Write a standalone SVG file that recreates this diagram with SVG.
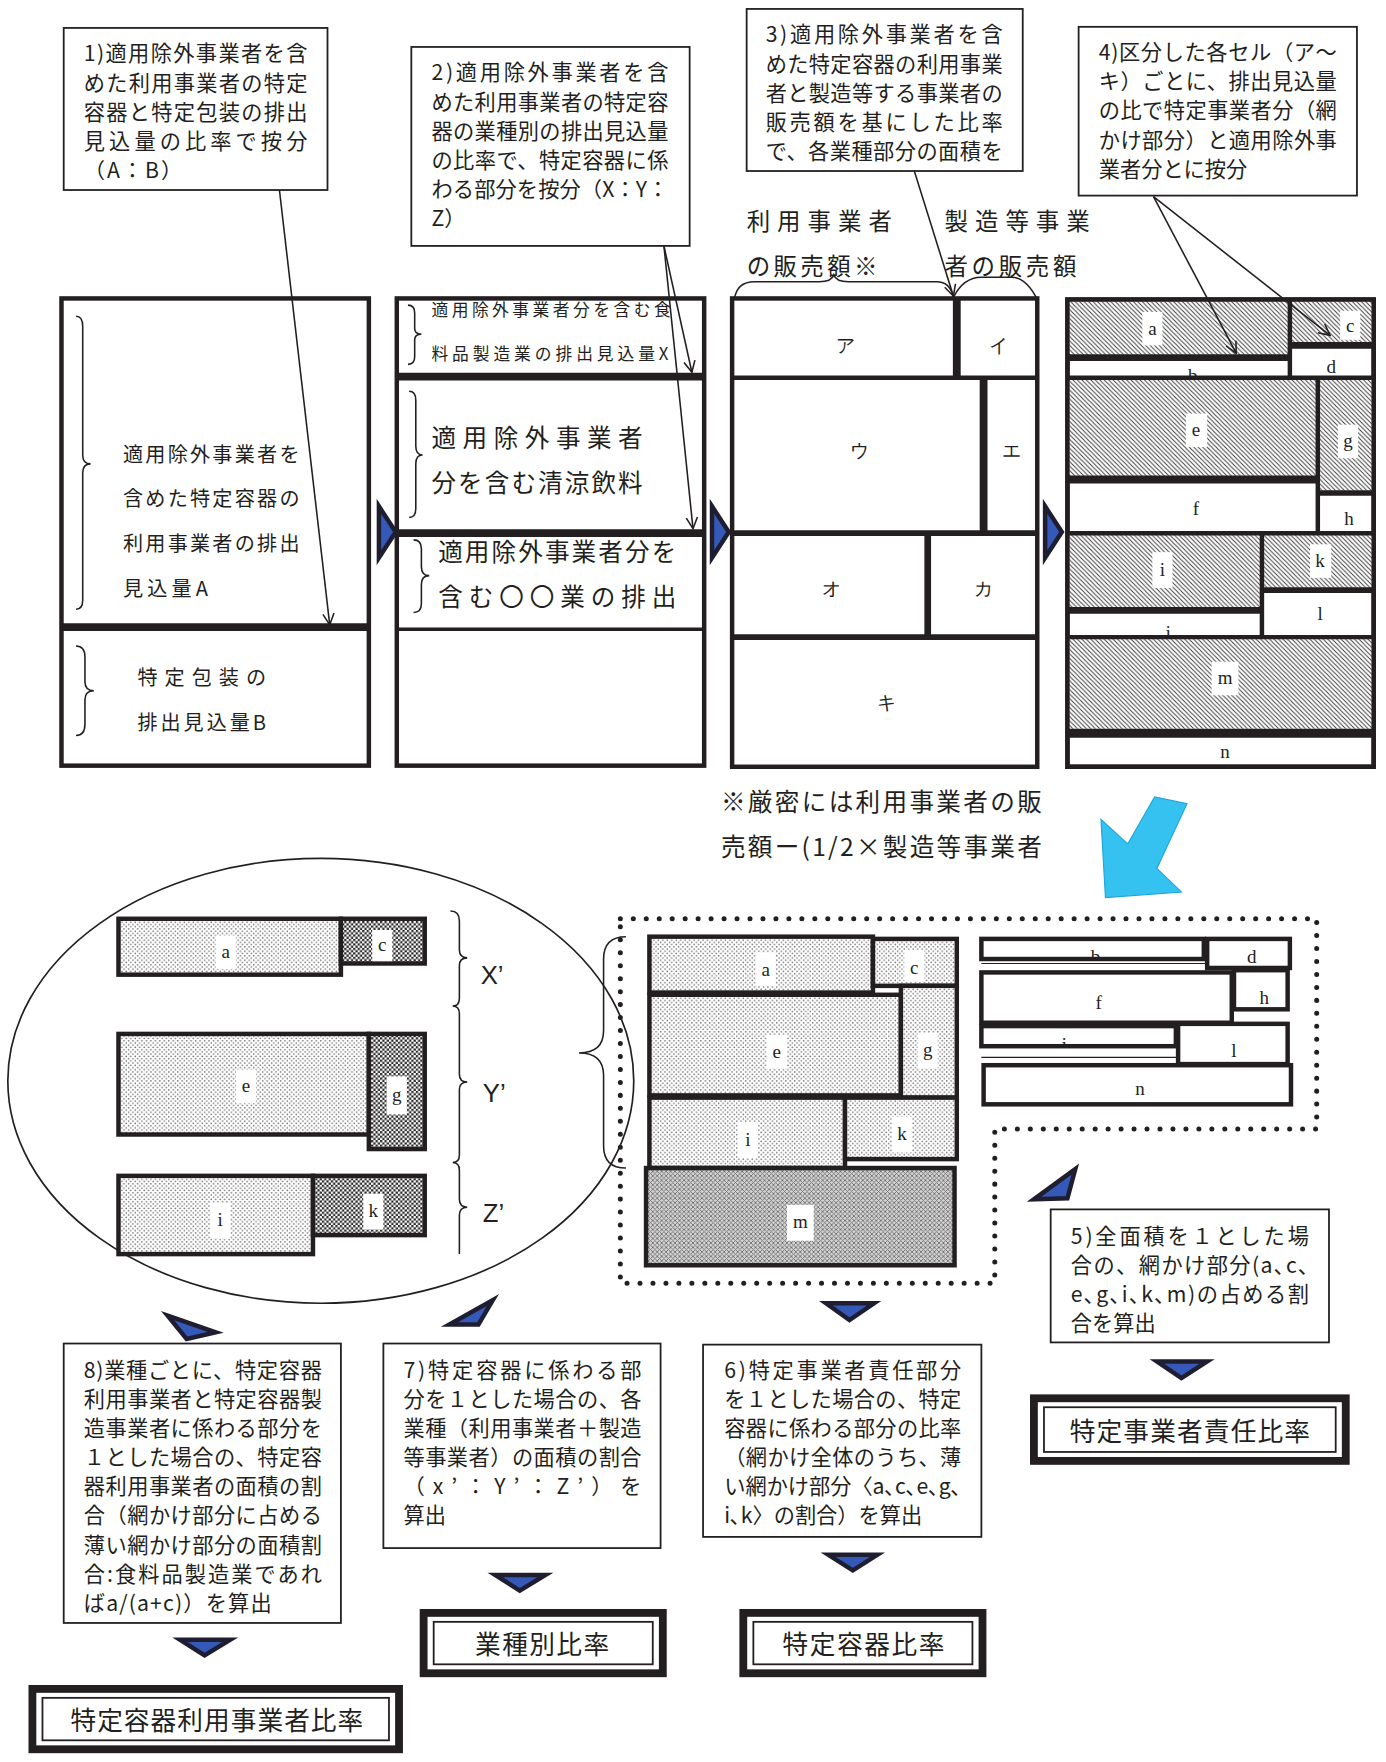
<svg xmlns="http://www.w3.org/2000/svg" width="1386" height="1762" viewBox="0 0 1386 1762">
<defs>
<style>
.t{font-family:"Noto Sans CJK JP","Noto Sans",sans-serif;fill:#231f20;}
.f19{font-size:19px;}
.f18{font-size:18px;}
.f15{font-size:15px;}
.f21{font-size:21px;}
.f22{font-size:22px;}
.f23{font-size:23px;}
.lb{font-family:"Liberation Serif","DejaVu Serif",serif;font-size:17px;text-anchor:middle;fill:#231f20;}
.xl{font-family:"Liberation Sans",Arial,sans-serif;font-size:23px;fill:#231f20;}
.box{fill:#fff;stroke:#231f20;stroke-width:1.6;}
.pn{fill:#fff;stroke:#231f20;stroke-width:4;}
.pno{fill:none;stroke:#231f20;stroke-width:4;}
.ln{stroke:#231f20;fill:none;}
.cell{stroke:#231f20;stroke-width:4;}
.wb{fill:#fff;}
.br{fill:none;stroke:#231f20;stroke-width:1.4;}
.tri{fill:#3559b8;stroke:#1e1e30;stroke-width:4;stroke-linejoin:miter;}
.con{stroke:#231f20;stroke-width:1.4;fill:none;marker-end:url(#ah);}
.rb{fill:#fff;stroke:#231f20;stroke-width:7;}
.ri{fill:none;stroke:#231f20;stroke-width:1.6;}
</style>
<marker id="ah" viewBox="0 0 12 12" refX="11" refY="6" markerWidth="12" markerHeight="12" markerUnits="userSpaceOnUse" orient="auto">
<path d="M1,1 L11,6 L1,11" fill="none" stroke="#231f20" stroke-width="1.4"/>
</marker>
<pattern id="hatch" width="4" height="4" patternUnits="userSpaceOnUse">
<rect width="4" height="4" fill="#fff"/>
<path d="M-1,-1 L5,5 M-1,3 L1,5 M3,-1 L5,1" stroke="#3a3a3a" stroke-width="0.85"/>
</pattern>
<pattern id="dots" width="4" height="4" patternUnits="userSpaceOnUse">
<rect width="4" height="4" fill="#fff"/>
<circle cx="1" cy="1" r="0.7" fill="#666"/>
<circle cx="3" cy="3" r="0.7" fill="#666"/>
</pattern>
<pattern id="checker" width="4" height="4" patternUnits="userSpaceOnUse">
<rect width="4" height="4" fill="#fff"/>
<rect width="2" height="2" fill="#2a2a2a"/>
<rect x="2" y="2" width="2" height="2" fill="#2a2a2a"/>
</pattern>
<pattern id="cross" width="4" height="4" patternUnits="userSpaceOnUse">
<rect width="4" height="4" fill="#d4d4d4"/>
<path d="M0,0 L4,4 M4,0 L0,4" stroke="#707070" stroke-width="0.8"/>
</pattern>
<clipPath id="cb1"><rect x="955" y="322" width="198" height="15"/></clipPath>
<clipPath id="cj1"><rect x="955" y="548" width="173" height="20"/></clipPath>
<clipPath id="cb2"><rect x="878" y="840" width="199" height="17"/></clipPath>
<clipPath id="cj2"><rect x="878" y="918" width="174" height="17"/></clipPath>
</defs>
<rect width="1386" height="1762" fill="#fff"/>
<g transform="scale(1.11774)">

<!-- top text boxes -->
<g id="box1">
<rect class="box" x="57" y="25" width="236" height="145"/>
<text class="t f19" x="75" y="55" textLength="200" lengthAdjust="spacing">1)適用除外事業者を含</text>
<text class="t f19" x="75" y="81" textLength="200" lengthAdjust="spacing">めた利用事業者の特定</text>
<text class="t f19" x="75" y="107" textLength="200" lengthAdjust="spacing">容器と特定包装の排出</text>
<text class="t f19" x="75" y="133" textLength="200" lengthAdjust="spacing">見込量の比率で按分</text>
<text class="t f19" x="75" y="159" textLength="88" lengthAdjust="spacing">（A：B）</text>
</g>
<g id="box2">
<rect class="box" x="368" y="42" width="249" height="178"/>
<text class="t f19" x="386" y="72" textLength="212" lengthAdjust="spacing">2)適用除外事業者を含</text>
<text class="t f19" x="386" y="98" textLength="212" lengthAdjust="spacing">めた利用事業者の特定容</text>
<text class="t f19" x="386" y="124" textLength="212" lengthAdjust="spacing">器の業種別の排出見込量</text>
<text class="t f19" x="386" y="150" textLength="212" lengthAdjust="spacing">の比率で、特定容器に係</text>
<text class="t f19" x="386" y="176" textLength="212" lengthAdjust="spacing">わる部分を按分（X：Y：</text>
<text class="t f19" x="386" y="202">Z）</text>
</g>
<g id="box3">
<rect class="box" x="668" y="8" width="247" height="145"/>
<text class="t f19" x="685" y="38" textLength="212" lengthAdjust="spacing">3)適用除外事業者を含</text>
<text class="t f19" x="685" y="64" textLength="212" lengthAdjust="spacing">めた特定容器の利用事業</text>
<text class="t f19" x="685" y="90" textLength="212" lengthAdjust="spacing">者と製造等する事業者の</text>
<text class="t f19" x="685" y="116" textLength="212" lengthAdjust="spacing">販売額を基にした比率</text>
<text class="t f19" x="685" y="142" textLength="212" lengthAdjust="spacing">で、各業種部分の面積を</text>
</g>
<g id="box4">
<rect class="box" x="965" y="24" width="249" height="151"/>
<text class="t f19" x="983" y="54" textLength="213" lengthAdjust="spacing">4)区分した各セル（ア～</text>
<text class="t f19" x="983" y="80" textLength="213" lengthAdjust="spacing">キ）ごとに、排出見込量</text>
<text class="t f19" x="983" y="106" textLength="213" lengthAdjust="spacing">の比で特定事業者分（網</text>
<text class="t f19" x="983" y="132" textLength="213" lengthAdjust="spacing">かけ部分）と適用除外事</text>
<text class="t f19" x="983" y="158">業者分とに按分</text>
</g>

<!-- labels above panel 3 -->
<g id="sales-labels">
<text class="t f21" x="668" y="206" textLength="130" lengthAdjust="spacing">利用事業者</text>
<text class="t f21" x="668" y="246" textLength="117" lengthAdjust="spacing">の販売額※</text>
<text class="t f21" x="845" y="206" textLength="130" lengthAdjust="spacing">製造等事業</text>
<text class="t f21" x="845" y="246" textLength="118" lengthAdjust="spacing">者の販売額</text>
<path class="br" d="M657,268 Q659,252 675,252 L733,252 Q744,252 746,246 Q748,252 759,252 L838,252 Q850,252 853,266"/>
<path class="br" d="M853,266 Q862,248 878,248 L905,248 Q918,248 928,268"/>
</g>

<!-- panel 1 -->
<g id="panel1">
<rect class="pn" x="55" y="267" width="275" height="418"/>
<line class="ln" x1="55" y1="561" x2="330" y2="561" stroke-width="7"/>
<path class="br" d="M68,283 Q74,283 74,292 L74,407 Q74,415 81,415 Q74,415 74,423 L74,537 Q74,545 68,545"/>
<text class="t f18" x="110" y="413" textLength="158" lengthAdjust="spacing">適用除外事業者を</text>
<text class="t f18" x="110" y="453" textLength="158" lengthAdjust="spacing">含めた特定容器の</text>
<text class="t f18" x="110" y="493" textLength="158" lengthAdjust="spacing">利用事業者の排出</text>
<text class="t f18" x="110" y="533" textLength="76" lengthAdjust="spacing">見込量A</text>
<path class="br" d="M68,578 Q76,578 76,588 L76,610 Q76,618 84,618 Q76,618 76,626 L76,648 Q76,658 68,658"/>
<text class="t f18" x="123" y="613" textLength="115" lengthAdjust="spacing">特定包装の</text>
<text class="t f18" x="123" y="653" textLength="115" lengthAdjust="spacing">排出見込量B</text>
</g>

<!-- panel 2 -->
<g id="panel2">
<rect x="355" y="267" width="275" height="418" fill="#fff"/>
<text class="t f15" x="386" y="283" textLength="214" lengthAdjust="spacing">適用除外事業者分を含む食</text>
<text class="t f15" x="386" y="322" textLength="212" lengthAdjust="spacing">料品製造業の排出見込量X</text>
<rect class="pno" x="355" y="267" width="275" height="418"/>
<line class="ln" x1="355" y1="337" x2="630" y2="337" stroke-width="7"/>
<line class="ln" x1="355" y1="477" x2="630" y2="477" stroke-width="7"/>
<line class="ln" x1="355" y1="563" x2="630" y2="563" stroke-width="3"/>
<path class="br" d="M365,273 Q371,273 371,280 L371,294 Q371,299 377,299 Q371,299 371,304 L371,319 Q371,326 365,326"/>
<path class="br" d="M366,350 Q372,350 372,358 L372,399 Q372,407 378,407 Q372,407 372,415 L372,455 Q372,463 366,463"/>
<path class="br" d="M370,483 Q377,483 377,491 L377,507 Q377,515 384,515 Q377,515 377,523 L377,540 Q377,548 370,548"/>
<text class="t f22" x="386" y="400" textLength="189" lengthAdjust="spacing">適用除外事業者</text>
<text class="t f22" x="386" y="440" textLength="189" lengthAdjust="spacing">分を含む清涼飲料</text>
<text class="t f22" x="392" y="502" textLength="213" lengthAdjust="spacing">適用除外事業者分を</text>
<text class="t f22" x="392" y="542" textLength="213" lengthAdjust="spacing">含む〇〇業の排出</text>
</g>

<!-- panel 3 -->
<g id="panel3">
<rect class="pn" x="655" y="267" width="273" height="419"/>
<line class="ln" x1="856" y1="267" x2="856" y2="338" stroke-width="7"/>
<line class="ln" x1="655" y1="338" x2="928" y2="338" stroke-width="4"/>
<line class="ln" x1="880" y1="338" x2="880" y2="477" stroke-width="7"/>
<line class="ln" x1="655" y1="477" x2="928" y2="477" stroke-width="5"/>
<line class="ln" x1="830" y1="477" x2="830" y2="570" stroke-width="6"/>
<line class="ln" x1="655" y1="570" x2="928" y2="570" stroke-width="5"/>
<text class="lb" x="756" y="315">ア</text>
<text class="lb" x="893" y="315">イ</text>
<text class="lb" x="769" y="409">ウ</text>
<text class="lb" x="905" y="409">エ</text>
<text class="lb" x="744" y="532">オ</text>
<text class="lb" x="880" y="532">カ</text>
<text class="lb" x="793" y="634">キ</text>
</g>

<!-- panel 4 -->
<g id="panel4">
<rect class="pn" x="955" y="268" width="274" height="418"/>
<rect x="955" y="268" width="198" height="50" fill="url(#hatch)"/>
<rect x="1154" y="268" width="75" height="39" fill="url(#hatch)"/>
<rect x="955" y="338" width="223" height="89" fill="url(#hatch)"/>
<rect x="1179" y="338" width="50" height="101" fill="url(#hatch)"/>
<rect x="955" y="477" width="173" height="67" fill="url(#hatch)"/>
<rect x="1129" y="477" width="100" height="49" fill="url(#hatch)"/>
<rect x="955" y="570" width="274" height="82" fill="url(#hatch)"/>
<rect class="pno" x="955" y="268" width="274" height="418"/>
<line class="ln" x1="955" y1="320" x2="1153" y2="320" stroke-width="6"/>
<line class="ln" x1="1154" y1="268" x2="1154" y2="338" stroke-width="4"/>
<line class="ln" x1="1154" y1="309" x2="1229" y2="309" stroke-width="6"/>
<line class="ln" x1="955" y1="338" x2="1229" y2="338" stroke-width="4"/>
<line class="ln" x1="955" y1="429" x2="1178" y2="429" stroke-width="7"/>
<line class="ln" x1="1179" y1="338" x2="1179" y2="477" stroke-width="4"/>
<line class="ln" x1="1179" y1="441" x2="1229" y2="441" stroke-width="5"/>
<line class="ln" x1="955" y1="477" x2="1229" y2="477" stroke-width="4"/>
<line class="ln" x1="955" y1="546" x2="1128" y2="546" stroke-width="6"/>
<line class="ln" x1="1129" y1="477" x2="1129" y2="570" stroke-width="4"/>
<line class="ln" x1="1129" y1="528" x2="1229" y2="528" stroke-width="5"/>
<line class="ln" x1="955" y1="570" x2="1229" y2="570" stroke-width="4"/>
<line class="ln" x1="955" y1="656" x2="1229" y2="656" stroke-width="8"/>
<rect class="wb" x="1022" y="279" width="18" height="30"/>
<text class="lb" x="1031" y="300">a</text>
<text class="lb" x="1067" y="342" clip-path="url(#cb1)">b</text>
<rect class="wb" x="1199" y="278" width="18" height="26"/>
<text class="lb" x="1208" y="297">c</text>
<text class="lb" x="1191" y="334">d</text>
<rect class="wb" x="1061" y="370" width="19" height="30"/>
<text class="lb" x="1070" y="390">e</text>
<text class="lb" x="1070" y="461">f</text>
<rect class="wb" x="1197" y="380" width="18" height="30"/>
<text class="lb" x="1206" y="400">g</text>
<text class="lb" x="1207" y="470">h</text>
<rect class="wb" x="1031" y="494" width="18" height="32"/>
<text class="lb" x="1040" y="515">i</text>
<text class="lb" x="1045" y="572" clip-path="url(#cj1)">j</text>
<rect class="wb" x="1172" y="487" width="19" height="30"/>
<text class="lb" x="1181" y="507">k</text>
<text class="lb" x="1181" y="555">l</text>
<rect class="wb" x="1084" y="592" width="24" height="30"/>
<text class="lb" x="1096" y="612">m</text>
<text class="lb" x="1096" y="678">n</text>
</g>

<!-- right-pointing triangles -->
<g id="steps-row1">
<polygon class="tri" points="339,453 354,476 339,499"/>
<polygon class="tri" points="637,453 652,476 637,499"/>
<polygon class="tri" points="935,453 950,476 935,499"/>
</g>

<!-- footnote -->
<g id="footnote">
<text class="t f22" x="645" y="726" textLength="287" lengthAdjust="spacing">※厳密には利用事業者の販</text>
<text class="t f22" x="645" y="766" textLength="287" lengthAdjust="spacing">売額ー(1/2×製造等事業者</text>
</g>

<!-- big cyan arrow -->
<g id="big-arrow">
<polygon points="985,733 1009,755 1033,713 1062,719 1035,777 1057,798 989,803" fill="#36c2f0" stroke="#1ea6d8" stroke-width="1"/>
</g>

<!-- ellipse detail -->
<g id="ellipse">
<ellipse cx="287" cy="967" rx="280" ry="199" fill="#fff" stroke="#231f20" stroke-width="1.5"/>
<rect class="cell" x="106" y="822" width="199" height="50" fill="url(#dots)"/>
<rect class="cell" x="305" y="822" width="75" height="40" fill="url(#checker)"/>
<rect class="cell" x="106" y="925" width="224" height="90" fill="url(#dots)"/>
<rect class="cell" x="330" y="925" width="50" height="103" fill="url(#checker)"/>
<rect class="cell" x="106" y="1052" width="174" height="70" fill="url(#dots)"/>
<rect class="cell" x="280" y="1052" width="100" height="53" fill="url(#checker)"/>
<rect class="wb" x="193" y="837" width="18" height="30"/>
<text class="lb" x="202" y="857">a</text>
<rect class="wb" x="333" y="832" width="18" height="28"/>
<text class="lb" x="342" y="851">c</text>
<rect class="wb" x="211" y="957" width="18" height="30"/>
<text class="lb" x="220" y="977">e</text>
<rect class="wb" x="346" y="963" width="18" height="34"/>
<text class="lb" x="355" y="985">g</text>
<rect class="wb" x="188" y="1076" width="18" height="32"/>
<text class="lb" x="197" y="1097">i</text>
<rect class="wb" x="325" y="1068" width="18" height="32"/>
<text class="lb" x="334" y="1089">k</text>
<path class="br" d="M403,815 Q411,815 411,824 L411,850 Q411,857 418,857 Q411,857 411,864 L411,893 Q411,900 405,900 Q411,900 411,907 L411,961 Q411,968 418,968 Q411,968 411,975 L411,1033 Q411,1040 405,1040 Q411,1040 411,1047 L411,1073 Q411,1080 418,1080 Q411,1080 411,1087 L411,1122"/>
<text class="xl" x="430" y="880">X’</text>
<text class="xl" x="432" y="986">Y’</text>
<text class="xl" x="432" y="1093">Z’</text>
</g>

<!-- dotted region -->
<g id="dotted-region">
<path d="M555,822 L1178,822 L1178,1010 L890,1010 L890,1148 L555,1148 Z" fill="none" stroke="#231f20" stroke-width="4.5" stroke-linecap="round" stroke-dasharray="0 11.6"/>
<path class="br" d="M560,838 Q540,838 540,858 L540,922 Q540,942 518,942 Q540,942 540,962 L540,1025 Q540,1045 560,1045"/>
<rect class="cell" x="581" y="838" width="200" height="50" fill="url(#dots)"/>
<rect class="cell" x="781" y="840" width="75" height="42" fill="url(#dots)"/>
<rect class="cell" x="581" y="890" width="225" height="90" fill="url(#dots)"/>
<rect class="cell" x="806" y="882" width="50" height="100" fill="url(#dots)"/>
<rect class="cell" x="581" y="982" width="175" height="63" fill="url(#dots)"/>
<rect class="cell" x="756" y="982" width="100" height="55" fill="url(#dots)"/>
<rect class="cell" x="578" y="1045" width="276" height="87" fill="url(#cross)"/>
<rect class="wb" x="676" y="852" width="18" height="30"/>
<text class="lb" x="685" y="873">a</text>
<rect class="wb" x="809" y="850" width="18" height="28"/>
<text class="lb" x="818" y="871">c</text>
<rect class="wb" x="686" y="926" width="18" height="30"/>
<text class="lb" x="695" y="947">e</text>
<rect class="wb" x="821" y="924" width="18" height="32"/>
<text class="lb" x="830" y="945">g</text>
<rect class="wb" x="660" y="1004" width="18" height="32"/>
<text class="lb" x="669" y="1025">i</text>
<rect class="wb" x="798" y="999" width="18" height="32"/>
<text class="lb" x="807" y="1020">k</text>
<rect class="wb" x="704" y="1078" width="24" height="32"/>
<text class="lb" x="716" y="1099">m</text>
<line class="ln" x1="878" y1="862" x2="1080" y2="862" stroke-width="1" stroke="#888"/>
<line class="ln" x1="878" y1="946" x2="1054" y2="946" stroke-width="1" stroke="#888"/>
<rect class="cell" x="878" y="840" width="199" height="18" fill="#fff"/>
<text class="lb" x="980" y="862" clip-path="url(#cb2)">b</text>
<rect class="cell" x="1080" y="840" width="74" height="26" fill="#fff"/>
<text class="lb" x="1120" y="862">d</text>
<rect class="cell" x="878" y="870" width="224" height="45" fill="#fff"/>
<text class="lb" x="983" y="903">f</text>
<rect class="cell" x="1104" y="868" width="48" height="35" fill="#fff"/>
<text class="lb" x="1131" y="898">h</text>
<rect class="cell" x="878" y="918" width="174" height="18" fill="#fff"/>
<text class="lb" x="952" y="940" clip-path="url(#cj2)">j</text>
<rect class="cell" x="1054" y="916" width="98" height="36" fill="#fff"/>
<text class="lb" x="1104" y="946">l</text>
<rect class="cell" x="880" y="953" width="275" height="35" fill="#fff"/>
<text class="lb" x="1020" y="980">n</text>
</g>

<!-- lower text boxes -->
<g id="box5">
<rect class="box" x="940" y="1082" width="249" height="119"/>
<text class="t f19" x="958" y="1113" textLength="213" lengthAdjust="spacing">5)全面積を１とした場</text>
<text class="t f19" x="958" y="1139" textLength="213" lengthAdjust="spacing">合の、網かけ部分(a､c､</text>
<text class="t f19" x="958" y="1165" textLength="213" lengthAdjust="spacing">e､g､i､k､m)の占める割</text>
<text class="t f19" x="958" y="1191">合を算出</text>
</g>
<g id="box6">
<rect class="box" x="629" y="1203" width="249" height="172"/>
<text class="t f19" x="648" y="1233" textLength="212" lengthAdjust="spacing">6)特定事業者責任部分</text>
<text class="t f19" x="648" y="1259" textLength="212" lengthAdjust="spacing">を１とした場合の、特定</text>
<text class="t f19" x="648" y="1285" textLength="212" lengthAdjust="spacing">容器に係わる部分の比率</text>
<text class="t f19" x="648" y="1311" textLength="212" lengthAdjust="spacing">（網かけ全体のうち、薄</text>
<text class="t f19" x="648" y="1337" textLength="212" lengthAdjust="spacing">い網かけ部分〈a､c､e､g､</text>
<text class="t f19" x="648" y="1363">i､k〉の割合）を算出</text>
</g>
<g id="box7">
<rect class="box" x="343" y="1202" width="248" height="183"/>
<text class="t f19" x="361" y="1233" textLength="213" lengthAdjust="spacing">7)特定容器に係わる部</text>
<text class="t f19" x="361" y="1259" textLength="213" lengthAdjust="spacing">分を１とした場合の、各</text>
<text class="t f19" x="361" y="1285" textLength="213" lengthAdjust="spacing">業種（利用事業者＋製造</text>
<text class="t f19" x="361" y="1311" textLength="213" lengthAdjust="spacing">等事業者）の面積の割合</text>
<text class="t f19" x="361" y="1337" textLength="213" lengthAdjust="spacing">（x’：Y’：Z’）を</text>
<text class="t f19" x="361" y="1363">算出</text>
</g>
<g id="box8">
<rect class="box" x="57" y="1202" width="248" height="250"/>
<text class="t f19" x="75" y="1233" textLength="213" lengthAdjust="spacing">8)業種ごとに、特定容器</text>
<text class="t f19" x="75" y="1259" textLength="213" lengthAdjust="spacing">利用事業者と特定容器製</text>
<text class="t f19" x="75" y="1285" textLength="213" lengthAdjust="spacing">造事業者に係わる部分を</text>
<text class="t f19" x="75" y="1311" textLength="213" lengthAdjust="spacing">１とした場合の、特定容</text>
<text class="t f19" x="75" y="1337" textLength="213" lengthAdjust="spacing">器利用事業者の面積の割</text>
<text class="t f19" x="75" y="1363" textLength="213" lengthAdjust="spacing">合（網かけ部分に占める</text>
<text class="t f19" x="75" y="1389" textLength="213" lengthAdjust="spacing">薄い網かけ部分の面積割</text>
<text class="t f19" x="75" y="1415" textLength="213" lengthAdjust="spacing">合:食料品製造業であれ</text>
<text class="t f19" x="75" y="1441" textLength="168" lengthAdjust="spacing">ばa/(a+c)）を算出</text>
</g>

<!-- result boxes -->
<g id="res-responsibility">
<rect class="rb" x="925" y="1251" width="279" height="56"/>
<rect class="ri" x="934" y="1259" width="261" height="40"/>
<text class="t f23" x="957" y="1289" textLength="215" lengthAdjust="spacing">特定事業者責任比率</text>
</g>
<g id="res-industry">
<rect class="rb" x="379" y="1443" width="214" height="54"/>
<rect class="ri" x="388" y="1451" width="196" height="38"/>
<text class="t f23" x="425" y="1480" textLength="120" lengthAdjust="spacing">業種別比率</text>
</g>
<g id="res-container">
<rect class="rb" x="665" y="1443" width="214" height="54"/>
<rect class="ri" x="674" y="1451" width="196" height="38"/>
<text class="t f23" x="700" y="1480" textLength="145" lengthAdjust="spacing">特定容器比率</text>
</g>
<g id="res-user">
<rect class="rb" x="29" y="1511" width="328" height="54"/>
<rect class="ri" x="38" y="1519" width="310" height="38"/>
<text class="t f23" x="63" y="1548" textLength="262" lengthAdjust="spacing">特定容器利用事業者比率</text>
</g>

<!-- step triangles lower -->
<g id="steps-lower">
<polygon class="tri" points="150,1177 193,1192 167,1198"/>
<polygon class="tri" points="441,1163 428,1185 402,1185"/>
<polygon class="tri" points="962,1046 955,1072 925,1073"/>
<polygon class="tri" points="739,1166 782,1166 760,1181"/>
<polygon class="tri" points="1035,1218 1080,1218 1057,1233"/>
<polygon class="tri" points="443,1409 488,1409 465,1423"/>
<polygon class="tri" points="741,1391 785,1391 763,1405"/>
<polygon class="tri" points="161,1467 206,1467 183,1481"/>
</g>

<!-- connectors -->
<g id="connectors">
<line class="con" x1="250" y1="170" x2="295" y2="559"/>
<line class="con" x1="594" y1="220" x2="619" y2="333"/>
<line class="con" x1="594" y1="220" x2="620" y2="473"/>
<line class="con" x1="818" y1="153" x2="853" y2="265"/>
<line class="con" x1="1032" y1="176" x2="1106" y2="316"/>
<line class="con" x1="1032" y1="176" x2="1190" y2="300"/>
</g>

</g>
</svg>
